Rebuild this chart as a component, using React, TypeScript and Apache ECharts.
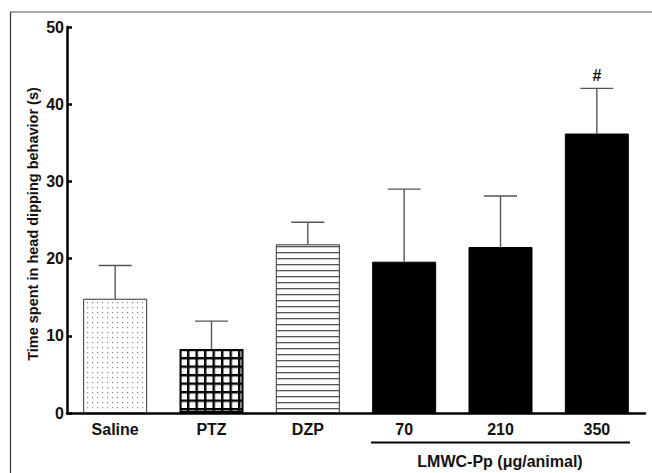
import React, { useEffect, useRef } from "react";
import * as echarts from "echarts";

const categories = ["Saline", "PTZ", "DZP", "70", "210", "350"];
const means = [14.8, 8.3, 21.85, 19.6, 21.5, 36.2];
const upperErrors = [19.1, 11.9, 24.7, 29.0, 28.1, 42.05];
const annotations = ["", "", "", "", "", "#"];
const yTicks = [0, 10, 20, 30, 40, 50];
const yTitle = "Time spent in head dipping behavior (s)";
const groupLabel = "LMWC-Pp (\u03bcg/animal)";

const FONT = "Liberation Sans, Arial, sans-serif";

function makePattern(kind: string) {
  const c = document.createElement("canvas");
  let w = 5, h = 5;
  if (kind === "grid") { w = 8.5; h = 8.5; }
  if (kind === "hlines") { w = 6; h = 6; }
  c.width = Math.round(w * 2);
  c.height = Math.round(h * 2);
  const ctx = c.getContext("2d")!;
  ctx.scale(2, 2);
  ctx.fillStyle = "#fff";
  ctx.fillRect(0, 0, w, h);
  if (kind === "dots") {
    ctx.fillStyle = "#8a8a8a";
    ctx.fillRect(2, 2, 1.2, 1.2);
  } else if (kind === "grid") {
    ctx.fillStyle = "#000";
    ctx.fillRect(0, 0, w, 2.4);
    ctx.fillRect(0, 0, 2.4, h);
  } else if (kind === "hlines") {
    ctx.fillStyle = "#555";
    ctx.fillRect(0, 0, w, 1.3);
  }
  return { image: c, repeat: "repeat", imageWidth: c.width, imageHeight: c.height, scaleX: 0.5, scaleY: 0.5 } as any;
}

export default function App() {
  const ref = useRef<HTMLDivElement>(null);
  useEffect(() => {
    if (!ref.current) return;
    const chart = echarts.init(ref.current, null, { renderer: "svg" });
    const fills: any[] = [
      { color: makePattern("dots"), borderColor: "#333", borderWidth: 1 },
      { color: makePattern("grid"), borderColor: "#000", borderWidth: 2 },
      { color: makePattern("hlines"), borderColor: "#333", borderWidth: 1 },
      { color: "#000", borderColor: "#000", borderWidth: 1 },
      { color: "#000", borderColor: "#000", borderWidth: 1 },
      { color: "#000", borderColor: "#000", borderWidth: 1 },
    ];
    const option: any = {
      animation: false,
      backgroundColor: "#fff",
      grid: { left: 67, right: 7, top: 27, bottom: 60, containLabel: false },
      xAxis: {
        type: "category",
        data: categories,
        axisLine: { lineStyle: { color: "#000", width: 2.5 } },
        axisTick: { show: false },
        axisLabel: { color: "#111", fontFamily: FONT, fontWeight: "bold", fontSize: 16, margin: 8 },
      },
      yAxis: {
        type: "value",
        min: yTicks[0],
        max: yTicks[yTicks.length - 1],
        interval: 10,
        splitLine: { show: false },
        axisLine: { show: true, lineStyle: { color: "#000", width: 2.5 } },
        axisTick: { show: true, inside: true, length: 5, lineStyle: { color: "#000", width: 2.5 } },
        axisLabel: { color: "#111", fontFamily: FONT, fontWeight: "bold", fontSize: 16, margin: 3 },
      },
      series: [
        {
          type: "bar",
          barWidth: 64,
          data: means.map((v, i) => ({ value: v, itemStyle: fills[i] })),
          z: 2,
        },
        {
          type: "custom",
          z: 3,
          data: categories.map((c, i) => [i, means[i], upperErrors[i], annotations[i]]),
          renderItem: (params: any, api: any) => {
            const idx = api.value(0);
            const base = api.coord([idx, api.value(1)]);
            const top = api.coord([idx, api.value(2)]);
            const half = 16.5;
            const children: any[] = [
              { type: "line", shape: { x1: base[0], y1: base[1], x2: top[0], y2: top[1] }, style: { stroke: "#555", lineWidth: 1.4 } },
              { type: "line", shape: { x1: top[0] - half, y1: top[1], x2: top[0] + half, y2: top[1] }, style: { stroke: "#555", lineWidth: 1.4 } },
            ];
            const ann = annotations[params.dataIndex];
            if (ann) {
              children.push({
                type: "text",
                style: { text: ann, x: top[0], y: top[1] - 5, align: "center", verticalAlign: "bottom", fill: "#111", font: "bold 16px " + FONT },
              });
            }
            return { type: "group", children };
          },
        },
      ],
      graphic: [
        { type: "line", shape: { x1: 10, y1: 12, x2: 652, y2: 12 }, style: { stroke: "#555", lineWidth: 1.2 } },
        { type: "line", shape: { x1: 10.5, y1: 12, x2: 10.5, y2: 473 }, style: { stroke: "#333", lineWidth: 1.2 } },
        { type: "line", shape: { x1: 371, y1: 442.5, x2: 630, y2: 442.5 }, style: { stroke: "#000", lineWidth: 2 } },
        { type: "text", style: { text: groupLabel, x: 500, y: 461, align: "center", verticalAlign: "middle", fill: "#111", font: "bold 16px " + FONT } },
        { type: "text", rotation: Math.PI / 2, x: 33, y: 224, style: { text: yTitle, x: 0, y: 0, align: "center", verticalAlign: "middle", fill: "#111", font: "bold 14.5px " + FONT } },
      ],
    };
    chart.setOption(option);
    return () => chart.dispose();
  }, []);
  return <div ref={ref} style={{ width: 652, height: 473, position: "absolute", left: 0, top: 0 }} />;
}
